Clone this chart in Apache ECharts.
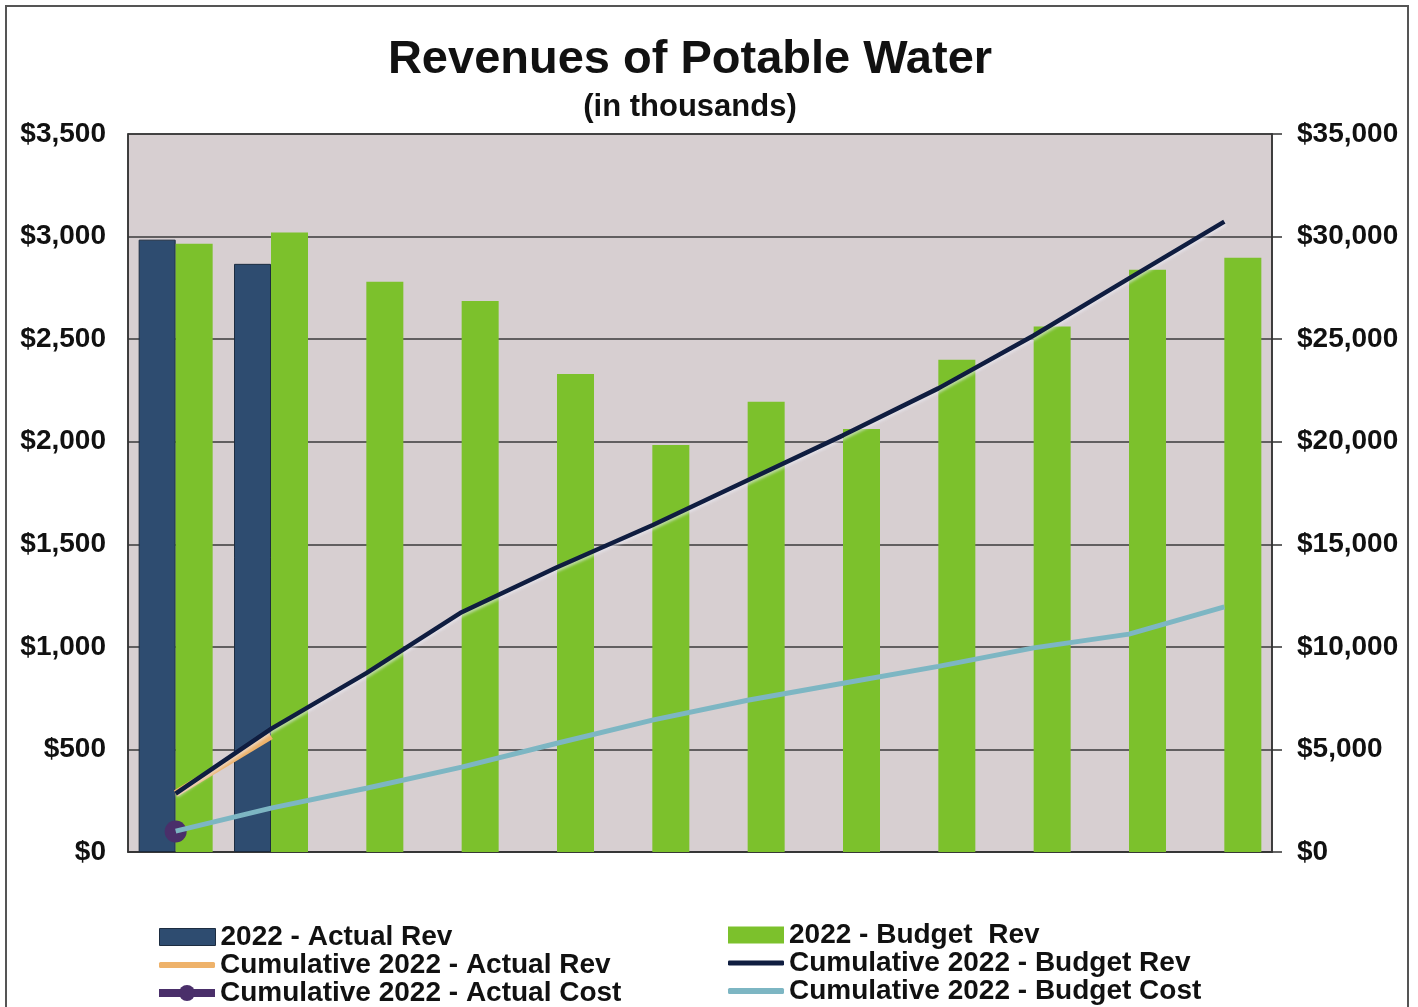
<!DOCTYPE html>
<html>
<head>
<meta charset="utf-8">
<script src="https://cdn.jsdelivr.net/npm/echarts@6/dist/echarts.min.js"></script>
<style>
html,body{margin:0;padding:0;background:#fff;}
#c{width:1418px;height:1007px;}
</style>
</head>
<body>
<div id="c"></div>
<script>
var categories = ['Jan','Feb','Mar','Apr','May','Jun','Jul','Aug','Sep','Oct','Nov','Dec'];
var actualRev = [2985, 2867, null, null, null, null, null, null, null, null, null, null];
var budgetRev = [2965, 3020, 2780, 2686, 2330, 1984, 2195, 2062, 2400, 2562, 2838, 2897];
var cumActualRev = [2850, 5650, null, null, null, null, null, null, null, null, null, null];
var cumActualCost = [1000, null, null, null, null, null, null, null, null, null, null, null];
var cumBudgetRev = [2850, 6000, 8720, 11690, 13880, 15930, 18120, 20310, 22600, 25180, 27960, 30730];
var cumBudgetCost = [1020, 2140, 3110, 4140, 5300, 6430, 7400, 8230, 9050, 9950, 10620, 11950];

var FONT = 'Liberation Sans, Arial, sans-serif';
var C = {actual: '#2e4c70', budget: '#7cc12c', cumActRev: '#eeb26a', cumActCost: '#4a2f6a',
         cumBudRev: '#0f1d40', cumBudCost: '#7db6c3'};
var chart = echarts.init(document.getElementById('c'));
var legendText = {fontFamily: FONT, fontSize: 28, fontWeight: 'bold', color: '#111', lineHeight: 28};

function leg(name, left, center, opts) {
  var o = {left: left, top: center - 14, padding: 0, itemGap: 0, itemWidth: 56,
           textStyle: legendText, data: [name]};
  for (var k in opts) o[k] = opts[k];
  return o;
}
function fmt(v){ return '$' + v.toLocaleString('en-US'); }

chart.setOption({
  backgroundColor: '#fff',
  animation: false,
  title: [
    {text: 'Revenues of Potable Water', left: 685, textAlign: 'center', top: 32,
     textStyle: {fontFamily: FONT, fontSize: 47, fontWeight: 'bold', color: '#111'}},
    {text: '(in thousands)', left: 685, textAlign: 'center', top: 87,
     textStyle: {fontFamily: FONT, fontSize: 31, fontWeight: 'bold', color: '#111'}}
  ],
  graphic: [
    {type: 'rect', shape: {x: 6, y: 6, width: 1402, height: 1010}, style: {fill: 'none', stroke: '#555', lineWidth: 2}, silent: true}
  ],
  legend: [
    leg('2022 - Actual Rev', 159, 937, {icon: 'rect', itemHeight: 17,
        itemStyle: {color: C.actual, borderColor: '#1c2c40', borderWidth: 1}}),
    leg('Cumulative 2022 - Actual Rev', 159, 965, {icon: 'roundRect', itemHeight: 6,
        itemStyle: {color: C.cumActRev}}),
    leg('Cumulative 2022 - Actual Cost', 155, 993, {itemHeight: 20,
        itemStyle: {color: C.cumActCost}, lineStyle: {color: C.cumActCost, width: 8}}),
    leg('2022 - Budget  Rev', 728, 935, {icon: 'rect', itemHeight: 17,
        itemStyle: {color: C.budget}}),
    leg('Cumulative 2022 - Budget Rev', 728, 963, {icon: 'roundRect', itemHeight: 5,
        itemStyle: {color: C.cumBudRev}}),
    leg('Cumulative 2022 - Budget Cost', 728, 991, {icon: 'roundRect', itemHeight: 6,
        itemStyle: {color: C.cumBudCost}})
  ],
  grid: {left: 128, right: 146, top: 134, bottom: 155, containLabel: false,
         show: true, backgroundColor: '#d7cfd1', borderColor: '#333', borderWidth: 1.5},
  xAxis: {type: 'category', data: categories,
          axisLine: {show: true, lineStyle: {color: '#333', width: 1.5}},
          axisTick: {show: false}, axisLabel: {show: false}},
  yAxis: [
    {type: 'value', min: 0, max: 3500, interval: 500, position: 'left',
     axisLine: {show: true, lineStyle: {color: '#333', width: 1.5}},
     axisTick: {show: false},
     axisLabel: {fontFamily: FONT, fontSize: 28, fontWeight: 'bold', color: '#111', margin: 22, formatter: fmt},
     splitLine: {show: true, lineStyle: {color: '#3a3a3a', width: 1.5}}},
    {type: 'value', min: 0, max: 35000, interval: 5000, position: 'right',
     axisLine: {show: true, lineStyle: {color: '#333', width: 1.5}},
     axisTick: {show: true, length: 10, lineStyle: {color: '#333', width: 1.5}},
     axisLabel: {fontFamily: FONT, fontSize: 28, fontWeight: 'bold', color: '#111', margin: 25, formatter: fmt},
     splitLine: {show: false}}
  ],
  series: [
    {name: '2022 - Actual Rev', type: 'bar', data: actualRev, barWidth: 37, barGap: '0%',
     itemStyle: {color: C.actual, borderColor: '#1c2c40', borderWidth: 1}, z: 2},
    {name: '2022 - Budget  Rev', type: 'bar', data: budgetRev, barWidth: 37, barGap: '0%',
     itemStyle: {color: C.budget}, z: 2},
    {name: 'Cumulative 2022 - Actual Rev', type: 'line', yAxisIndex: 1, data: cumActualRev,
     symbol: 'none', lineStyle: {color: C.cumActRev, width: 7}, itemStyle: {color: C.cumActRev}, z: 4},
    {name: 'Cumulative 2022 - Actual Cost', type: 'line', yAxisIndex: 1, data: cumActualCost,
     symbol: 'circle', symbolSize: 22, showSymbol: true,
     lineStyle: {color: C.cumActCost, width: 6}, itemStyle: {color: C.cumActCost}, z: 5},
    {name: 'Cumulative 2022 - Budget Rev', type: 'line', yAxisIndex: 1, data: cumBudgetRev,
     symbol: 'none', lineStyle: {color: C.cumBudRev, width: 4.5, shadowColor: 'rgba(235,235,245,0.6)', shadowBlur: 3, shadowOffsetX: 1, shadowOffsetY: 2},
     itemStyle: {color: C.cumBudRev}, z: 6},
    {name: 'Cumulative 2022 - Budget Cost', type: 'line', yAxisIndex: 1, data: cumBudgetCost,
     symbol: 'none', lineStyle: {color: C.cumBudCost, width: 5}, itemStyle: {color: C.cumBudCost}, z: 6}
  ]
});
</script>
</body>
</html>
